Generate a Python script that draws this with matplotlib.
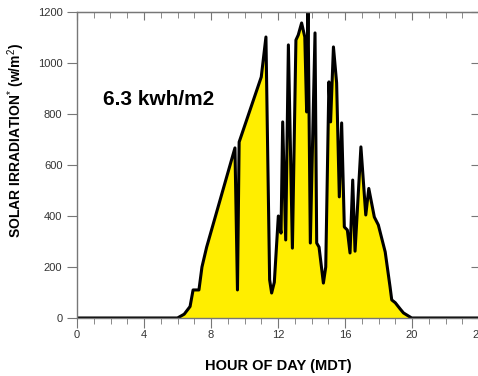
import matplotlib
matplotlib.use('Agg')
import matplotlib.pyplot as plt
from matplotlib.ticker import MultipleLocator

plt.rcParams['font.family'] = ['Liberation Sans', 'DejaVu Sans']
plt.rcParams['mathtext.fontset'] = 'custom'
plt.rcParams['mathtext.rm'] = 'Liberation Sans'
plt.rcParams['mathtext.bf'] = 'Liberation Sans:bold'

# hour of day vs. irradiance (w/m2)
hours = [0, 6.0, 6.4, 6.75, 6.93, 7.28, 7.46, 7.74, 9.43, 9.58, 9.68, 11.0, 11.28,
         11.5, 11.62, 11.78, 12.02, 12.18, 12.28, 12.46, 12.62, 12.86, 13.07, 13.21,
         13.41, 13.6, 13.71, 13.79, 13.93, 14.21, 14.31, 14.45, 14.71, 14.85, 15.04,
         15.14, 15.31, 15.5, 15.66, 15.8, 15.96, 16.14, 16.3, 16.46, 16.6, 16.95,
         17.24, 17.42, 17.75, 17.99, 18.4, 18.69, 18.79, 19.0, 19.3, 19.49, 19.98, 24]
irradiance = [0, 0, 15, 45, 110, 110, 200, 278, 667, 110, 690, 945, 1102,
              150, 98, 140, 400, 333, 769, 306, 1071, 274, 1090, 1110,
              1157, 1102, 808, 1230, 294, 1118, 294, 278, 137, 200, 926,
              769, 1063, 922, 475, 765, 357, 345, 255, 541, 262, 671,
              404, 508, 396, 365, 259, 122, 71, 60, 35, 20, 0, 0]

fig = plt.figure(figsize=(4.78, 3.76), dpi=100)
ax = fig.add_axes([77 / 478, 58 / 376, 402 / 478, 306 / 376])

ax.fill_between(hours, irradiance, 0, color='#ffee00', lw=0)
ax.plot(hours, irradiance, color='black', lw=2.2, solid_joinstyle='round')

ax.set_xlim(0, 24)
ax.set_ylim(0, 1200)
ax.xaxis.set_major_locator(MultipleLocator(4))
ax.xaxis.set_minor_locator(MultipleLocator(1))
ax.yaxis.set_major_locator(MultipleLocator(200))

for s in ax.spines.values():
    s.set_color('#777777')
    s.set_linewidth(1.0)

ax.tick_params(axis='both', which='both', colors='#777777', labelcolor='#333333',
               labelsize=8)
ax.tick_params(axis='x', which='major', direction='out', length=7)
ax.tick_params(axis='x', which='minor', direction='out', length=4)
ax.tick_params(axis='y', which='major', direction='out', length=7)
ax.tick_params(axis='x', which='both', pad=2)

# inward ticks on top and right
top = ax.secondary_xaxis('top')
top.xaxis.set_major_locator(MultipleLocator(4))
top.xaxis.set_minor_locator(MultipleLocator(1))
top.tick_params(which='major', direction='in', length=6, colors='#777777', labeltop=False)
top.tick_params(which='minor', direction='in', length=4, colors='#777777')
top.spines['top'].set_color('#777777')
right = ax.secondary_yaxis('right')
right.yaxis.set_major_locator(MultipleLocator(200))
right.tick_params(direction='in', length=6, colors='#777777', labelright=False)
right.spines['right'].set_color('#777777')

ax.set_xlabel('HOUR OF DAY (MDT)', fontsize=10.5, fontweight='bold', labelpad=13)
ax.set_ylabel(r'SOLAR IRRADIATION$^{*}$ (w/m$^{2}$)', fontsize=10, fontweight='bold')
ax.yaxis.set_label_coords(-0.125, 0.58)

ax.text(0.065, 0.715, '6.3 kwh/m2', transform=ax.transAxes, fontsize=15,
        fontweight='bold', va='center', ha='left')

fig.savefig('out.png', dpi=100)
